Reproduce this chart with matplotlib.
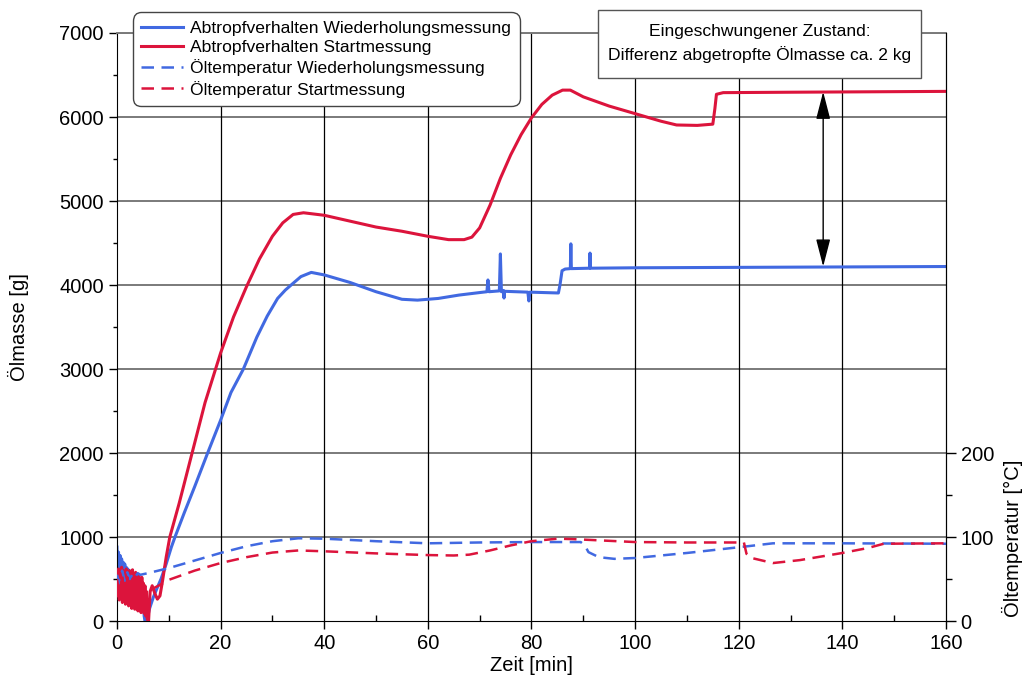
import numpy as np
import matplotlib
matplotlib.use("Agg")
import matplotlib.pyplot as plt
from matplotlib.patches import Rectangle
from matplotlib.ticker import MultipleLocator, FixedLocator

plt.rcParams['font.family'] = ['Liberation Sans', 'DejaVu Sans']

BLUE = '#4169E1'
RED = '#DC143C'

# --- Ölmasse, Wiederholungsmessung (g) ---
t_mass_rep = ([round(0.15 * i, 2) for i in range(37)] +
              [5.8, 6.3, 7.0, 7.8, 8.5, 9.5, 10.5, 11.2, 13, 15, 17.5, 20, 22, 24.4, 27, 29, 31,
               32.5, 33.8, 35.5, 37.5, 40, 45, 50, 55, 58, 62, 66, 70, 71.4, 71.6, 71.8, 73.8, 74.0,
               74.2, 74.6, 74.7, 74.8, 79.3, 79.5, 79.7, 85.2, 85.5, 85.9, 86.5, 87.5, 87.6,
               87.7, 91.2, 91.3, 91.4, 100, 120, 140, 160])
mass_rep = ([880, 350, 820, 300, 780, 420, 740, 280, 700, 380, 680, 260, 640, 340, 620, 240,
             600, 320, 580, 220, 560, 300, 540, 200, 520, 260, 500, 180, 470, 230, 450, 150,
             420, 120, 380, 60, 0] +
            [20, 150, 280, 400, 500, 680, 880, 1000, 1290, 1600, 2000, 2390, 2720, 3000, 3380,
             3630, 3840, 3940, 4010, 4100, 4150, 4120, 4030, 3920, 3830, 3820, 3840, 3880, 3910, 3920,
             4060, 3920, 3930, 4370, 3920, 3935, 3845, 3925, 3915, 3810, 3915, 3905, 4000, 4170,
             4190, 4195, 4490, 4195, 4200, 4380, 4200, 4205, 4210, 4215, 4220])

# --- Ölmasse, Startmessung (g) ---
t_mass_start = ([round(0.15 * i, 2) for i in range(40)] +
                [6.1, 6.4, 6.8, 7.3, 7.8, 8.3, 8.8, 9.5, 10.2, 12, 14.5, 17, 20, 22.5, 25, 27.5,
                 30, 32, 34, 36, 40, 45, 50, 55, 60, 64, 67, 68.5, 70, 72, 74, 76, 78, 80, 82,
                 84, 86, 87.5, 90, 95, 100, 105, 108, 112, 115, 115.4, 115.7, 117, 130, 145, 160])
mass_start = ([560, 300, 620, 250, 590, 330, 640, 220, 600, 280, 570, 200, 620, 260, 540, 180,
               600, 230, 560, 150, 610, 200, 520, 140, 580, 170, 500, 120, 540, 150, 480, 100,
               520, 130, 450, 90, 420, 60, 350, 20] +
              [0, 350, 420, 330, 260, 300, 480, 760, 1000, 1400, 2000, 2600, 3190, 3620, 3980,
               4310, 4580, 4740, 4840, 4860, 4830, 4760, 4690, 4640, 4580, 4540, 4540, 4570,
               4680, 4950, 5270, 5550, 5790, 5990, 6150, 6260, 6320, 6320, 6240, 6130, 6040,
               5950, 5905, 5900, 5915, 6100, 6270, 6290, 6295, 6300, 6305])

# --- Öltemperatur, Wiederholungsmessung (°C) ---
t_temp_rep = [0, 0.5, 1, 1.5, 2, 2.5, 3, 3.5, 4, 4.5, 6, 8, 10, 15, 20, 25, 30, 35, 40, 50, 60,
              70, 80, 89.5, 90.3, 91, 93, 96, 100, 110, 120.3, 126.6, 140, 160]
temp_rep = [55, 45, 60, 48, 58, 50, 56, 52, 57, 55, 57, 60, 63, 72, 81, 89, 95, 98.5, 98, 95,
            92.5, 93.5, 94, 94, 90, 82, 76, 74, 75, 81, 88, 92.5, 92.5, 92]

# --- Öltemperatur, Startmessung (°C) ---
t_temp_start = [0, 0.5, 1, 1.5, 2, 2.5, 3, 3.5, 4, 4.5, 5, 5.5, 6.4, 8, 10, 15, 20, 25, 30, 35,
                40, 50, 60, 65, 68, 72, 76, 80, 85, 88, 100, 110, 121, 121.5, 122.5, 126.6,
                131.8, 140, 145, 148, 160]
temp_start = [50, 30, 55, 28, 52, 35, 50, 30, 48, 33, 45, 35, 37, 42, 49, 60, 69, 76, 81.5, 84,
              83, 80.5, 78.5, 78, 79, 84, 90, 95, 98, 97.5, 94, 93.5, 93.5, 80, 75, 69, 72.5,
              81, 87, 92, 92.5]

labels = ['Abtropfverhalten Wiederholungsmessung', 'Abtropfverhalten Startmessung',
          'Öltemperatur Wiederholungsmessung', 'Öltemperatur Startmessung']

fig = plt.figure(figsize=(10.26, 6.79), dpi=100)
ax = fig.add_axes([0.114, 0.0854, 0.808, 0.866])
ax2 = ax.twinx()

# grid
for v in range(1000, 7001, 1000):
    ax.axhline(v, color='#7a7a7a', lw=1.4, zorder=0.5)
for v in range(20, 160, 20):
    ax.axvline(v, color='black', lw=0.9, zorder=0.5)

l1, = ax.plot(t_mass_rep, mass_rep, color=BLUE, lw=2.2, zorder=2)
l2, = ax.plot(t_mass_start, mass_start, color=RED, lw=2.2, zorder=3)
l3, = ax2.plot(t_temp_rep, temp_rep, color=BLUE, lw=1.8, ls=(0, (5, 3)), zorder=2)
l4, = ax2.plot(t_temp_start, temp_start, color=RED, lw=1.8, ls=(0, (5, 3)), zorder=3)

ax.set_xlim(0, 160)
ax.set_ylim(0, 7000)
ax2.set_ylim(0, 700)

ax.xaxis.set_major_locator(MultipleLocator(20))
ax.xaxis.set_minor_locator(MultipleLocator(10))
ax.yaxis.set_major_locator(MultipleLocator(1000))
ax.yaxis.set_minor_locator(MultipleLocator(500))
ax2.yaxis.set_major_locator(FixedLocator([0, 100, 200]))
ax2.yaxis.set_minor_locator(FixedLocator([50, 150]))

ax.tick_params(axis='both', which='major', labelsize=14.5, length=6, width=1, direction='out')
ax.tick_params(axis='y', which='minor', length=3, width=1, direction='out')
ax.tick_params(axis='x', which='minor', length=4, width=1, direction='in')
ax2.tick_params(axis='y', which='major', labelsize=14.5, length=7, width=1, direction='out')
ax2.tick_params(axis='y', which='minor', length=4, width=1, direction='out')

for s in ['left', 'bottom', 'right']:
    ax.spines[s].set_color('black')
ax.spines['top'].set_color('#7a7a7a')
ax.spines['top'].set_linewidth(1.4)
for s in ['left', 'bottom', 'top']:
    ax2.spines[s].set_visible(False)

ax.set_xlabel('Zeit [min]', fontsize=14.5, labelpad=2)
ax.set_ylabel('Ölmasse [g]', fontsize=14.5)
ax.yaxis.set_label_coords(-0.106, 0.5)
ax2.set_ylabel('Öltemperatur [°C]', fontsize=14.5)
ax2.yaxis.set_label_coords(1.068, 0.141)

# difference arrow
ax2.annotate('', xy=(136.3, 630.0), xytext=(136.3, 422.0),
             arrowprops=dict(arrowstyle='<|-|>,head_length=0.85,head_width=0.22',
                             color='black', lw=1.0, mutation_scale=20, shrinkA=0, shrinkB=0),
             zorder=6)

# annotation box
box = Rectangle((0.580, 0.9235), 0.390, 0.1155, transform=ax2.transAxes, fc='white',
                ec='#555555', lw=1.0, zorder=9, clip_on=False)
ax2.add_patch(box)
ax2.text(0.775, 0.982, 'Eingeschwungener Zustand:\nDifferenz abgetropfte Ölmasse ca. 2 kg',
         transform=ax2.transAxes, ha='center', va='center', fontsize=12.6, linespacing=1.45,
         zorder=10, clip_on=False)

leg = ax2.legend([l1, l2, l3, l4], labels, loc='upper left', bbox_to_anchor=(0.019, 1.036),
                 borderaxespad=0, fontsize=12.6, handlelength=2.4, handletextpad=0.4,
                 labelspacing=0.24, borderpad=0.5, frameon=True, fancybox=True,
                 framealpha=1, edgecolor='#444444')
leg.get_frame().set_boxstyle('round', pad=0, rounding_size=0.5)
leg.set_zorder(10)

fig.savefig('out.png', dpi=100)
